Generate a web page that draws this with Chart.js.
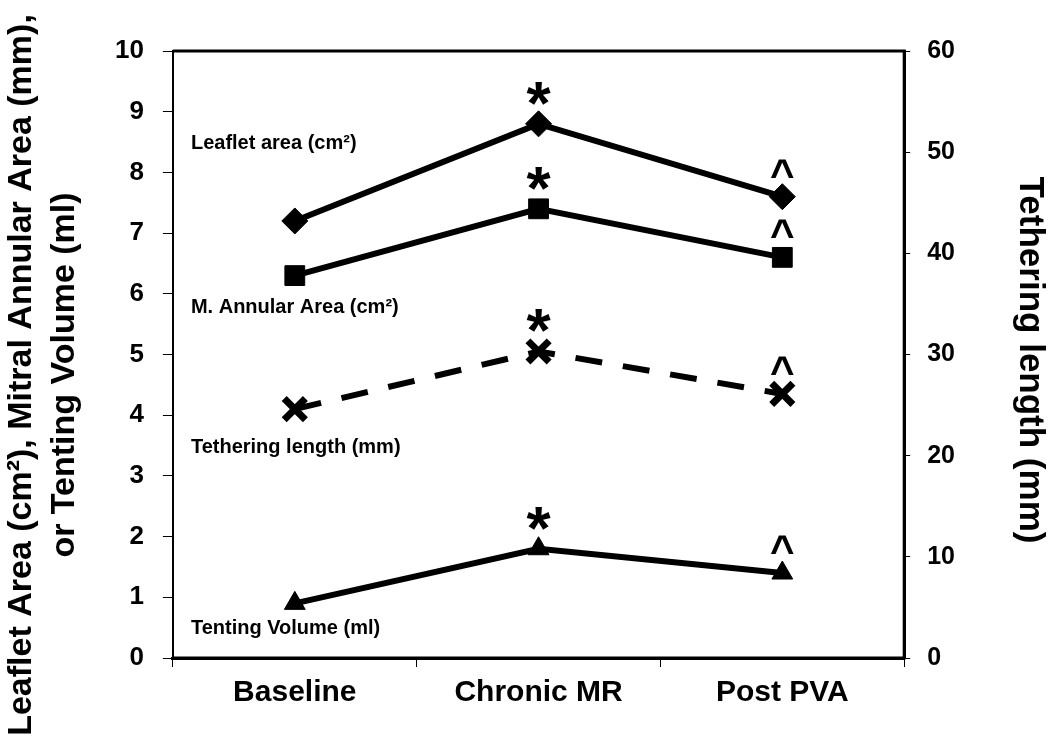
<!DOCTYPE html>
<html>
<head>
<meta charset="utf-8">
<script src="https://cdn.jsdelivr.net/npm/chart.js@4"></script>
<style>
  html, body { margin: 0; padding: 0; background: #fff; }
  #wrap { width: 1050px; height: 750px; }
</style>
</head>
<body>
<div id="wrap"><canvas id="grafico"></canvas></div>
<script>
var categorias = ['Baseline', 'Chronic MR', 'Post PVA'];

// left axis series
var leafletArea = [7.2, 8.8, 7.6];
var annularArea = [6.3, 7.4, 6.6];
var tentingVolume = [0.9, 1.8, 1.4];
// right axis series (mm)
var tetheringLength = [24.6, 30.3, 26.1];

// significance marks per category (* vs baseline, ^ vs chronic MR)
var marcasLeaflet = ['', '*', '^'];
var marcasAnnular = ['', '*', '^'];
var marcasTethering = ['', '*', '^'];
var marcasTenting = ['', '*', '^'];

// in-chart series labels, anchored at a left-axis value
var rotulos = ['Leaflet area (cm²)', 'M. Annular Area (cm²)', 'Tethering length (mm)', 'Tenting Volume (ml)'];
var rotulosY = [8.48, 5.78, 3.47, 0.48];

var tituloEsquerda = ['Leaflet Area (cm²), Mitral Annular Area (mm),', 'or Tenting Volume (ml)'];
var tituloDireita = 'Tethering length (mm)';

var fonte = '"Liberation Sans", Arial, sans-serif';

var anotacoes = {
    id: 'anotacoes',
    afterDatasetsDraw: function(chart) {
        var ctx = chart.ctx;
        var area = chart.chartArea;
        ctx.save();
        // frame around the plot
        ctx.strokeStyle = '#000';
        ctx.lineWidth = 3;
        ctx.beginPath();
        ctx.moveTo(area.left, area.top);
        ctx.lineTo(area.right, area.top);
        ctx.lineTo(area.right, area.bottom);
        ctx.lineTo(area.left, area.bottom);
        ctx.stroke();

        // series labels
        ctx.fillStyle = '#000';
        ctx.font = 'bold 20px ' + fonte;
        ctx.textAlign = 'left';
        ctx.textBaseline = 'middle';
        var y = chart.scales.y;
        for (var i = 0; i < rotulos.length; i++) {
            ctx.fillText(rotulos[i], area.left + 18, y.getPixelForValue(rotulosY[i]));
        }

        // significance marks
        var marcas = [marcasLeaflet, marcasAnnular, marcasTethering, marcasTenting];
        ctx.textAlign = 'center';
        ctx.textBaseline = 'alphabetic';
        for (var d = 0; d < marcas.length; d++) {
            var meta = chart.getDatasetMeta(d);
            for (var k = 0; k < marcas[d].length; k++) {
                var m = marcas[d][k];
                if (!m) continue;
                var p = meta.data[k];
                if (m == '*') {
                    ctx.font = 'bold 62px ' + fonte;
                    ctx.fillText(m, p.x, p.y);
                } else {
                    ctx.font = 'bold 42px ' + fonte;
                    ctx.fillText(m, p.x, p.y - 8);
                }
            }
        }

        // axis titles
        ctx.font = 'bold 34px ' + fonte;
        ctx.textAlign = 'center';
        ctx.textBaseline = 'middle';
        ctx.save();
        ctx.translate(22, 375);
        ctx.rotate(-Math.PI / 2);
        ctx.fillText(tituloEsquerda[0], 0, 0);
        ctx.fillText(tituloEsquerda[1], 0, 43);
        ctx.restore();
        ctx.font = 'bold 35px ' + fonte;
        ctx.save();
        ctx.translate(1030, 360);
        ctx.rotate(Math.PI / 2);
        ctx.fillText(tituloDireita, 0, 0);
        ctx.restore();
        ctx.restore();
    }
};

function serie(label, dados, estilo, raio, eixo, tracejado) {
    return {
        label: label,
        data: dados,
        yAxisID: eixo,
        borderColor: '#000',
        backgroundColor: '#000',
        borderWidth: 6,
        borderDash: tracejado ? [27, 21] : [],
        pointStyle: estilo,
        pointRadius: raio,
        pointBorderWidth: estilo == 'crossRot' ? 7 : 1,
        pointBackgroundColor: '#000',
        pointBorderColor: '#000',
        tension: 0,
        fill: false
    };
}

new Chart(document.getElementById('grafico'), {
    type: 'line',
    data: {
        labels: categorias,
        datasets: [
            serie('Leaflet area (cm²)', leafletArea, 'rectRot', 13, 'y', false),
            serie('M. Annular Area (cm²)', annularArea, 'rect', 14, 'y', false),
            serie('Tethering length (mm)', tetheringLength, 'crossRot', 15, 'y1', true),
            serie('Tenting Volume (ml)', tentingVolume, 'triangle', 12, 'y', false)
        ]
    },
    options: {
        responsive: true,
        maintainAspectRatio: false,
        animation: false,
        layout: { padding: { left: 96, right: 78, top: 51, bottom: 31 } },
        plugins: {
            legend: { display: false },
            tooltip: { enabled: false }
        },
        scales: {
            x: {
                offset: true,
                grid: { offset: true, drawOnChartArea: false, drawTicks: true, tickLength: 9, color: '#000', lineWidth: 1 },
                border: { display: true, color: '#000', width: 3 },
                ticks: { color: '#000', font: { family: fonte, size: 30, weight: 'bold' }, padding: 8 }
            },
            y: {
                position: 'left',
                min: 0,
                max: 10,
                ticks: { stepSize: 1, color: '#000', font: { family: fonte, size: 26, weight: 'bold' }, padding: 19 },
                grid: { drawOnChartArea: false, drawTicks: true, tickLength: 10, color: '#000', lineWidth: 1 },
                border: { display: true, color: '#000', width: 2 }
            },
            y1: {
                position: 'right',
                min: 0,
                max: 60,
                ticks: { stepSize: 10, color: '#000', font: { family: fonte, size: 25, weight: 'bold' }, padding: 17 },
                grid: { drawOnChartArea: false, drawTicks: true, tickLength: 6, color: '#000', lineWidth: 1 },
                border: { display: true, color: '#000', width: 3 }
            }
        }
    },
    plugins: [anotacoes]
});
</script>
</body>
</html>
